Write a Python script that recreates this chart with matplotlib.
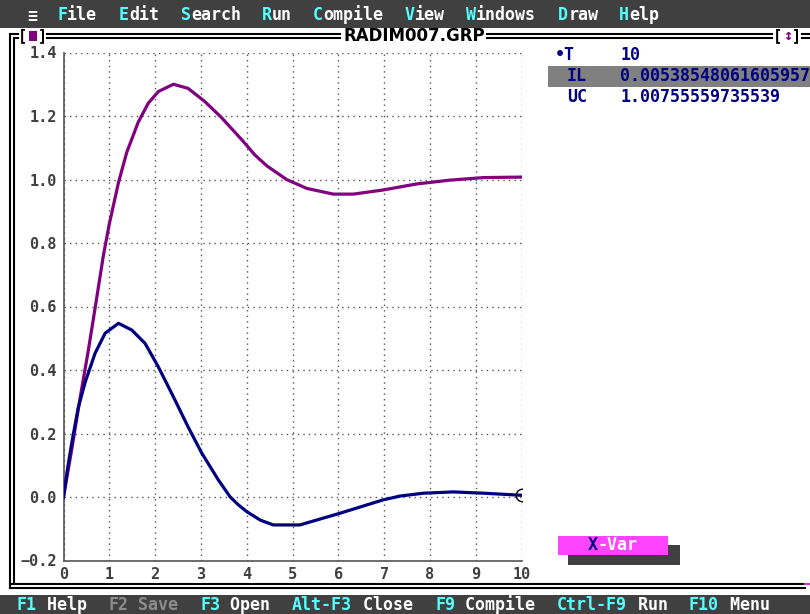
import matplotlib.pyplot as plt
from matplotlib.patches import Rectangle

# curve readings (time, value)
t_uc = [0, 0.18, 0.36, 0.54, 0.69, 0.87, 1.00, 1.20, 1.38, 1.63, 1.85, 2.07, 2.40,
        2.72, 3.09, 3.45, 3.90, 4.18, 4.44, 4.87, 5.31, 5.89, 6.33, 6.98, 7.71,
        8.44, 9.17, 10.0]
uc = [0, 0.150, 0.310, 0.460, 0.595, 0.760, 0.860, 0.990, 1.085, 1.180, 1.240, 1.277,
      1.300, 1.287, 1.245, 1.195, 1.124, 1.077, 1.043, 1.000, 0.972, 0.954, 0.954,
      0.967, 0.986, 0.998, 1.006, 1.0076]

t_il = [0, 0.10, 0.18, 0.32, 0.47, 0.69, 0.91, 1.20, 1.49, 1.78, 2.07, 2.36, 2.72,
        3.02, 3.38, 3.64, 3.82, 4.00, 4.30, 4.58, 5.16, 6.04, 6.98, 7.35, 7.86,
        8.51, 9.17, 10.0]
il = [0, 0.100, 0.170, 0.280, 0.360, 0.453, 0.516, 0.547, 0.526, 0.484, 0.410,
      0.327, 0.221, 0.138, 0.054, 0.0, -0.025, -0.046, -0.073, -0.088, -0.088,
      -0.051, -0.009, 0.003, 0.012, 0.016, 0.012, 0.0054]

x_ticks = [0, 1, 2, 3, 4, 5, 6, 7, 8, 9, 10]
y_ticks = [-0.2, 0.0, 0.2, 0.4, 0.6, 0.8, 1.0, 1.2, 1.4]

menu = ['File', 'Edit', 'Search', 'Run', 'Compile', 'View', 'Windows', 'Draw', 'Help']
menu_x = [57, 119, 181, 262, 313, 405, 466, 558, 619]

W, H = 810, 614
fig = plt.figure(figsize=(8.1, 6.14), dpi=100)
fig.patch.set_facecolor('white')
mono = 'DejaVu Sans Mono'
CYAN = '#55ffff'
BAR = '#404040'


def fx(x):
    return x / W


def fy(y):
    return 1 - y / H


def rect(x0, y0, x1, y1, color, z=0):
    fig.patches.append(Rectangle((fx(x0), fy(y1)), fx(x1 - x0), (y1 - y0) / H,
                                 transform=fig.transFigure, facecolor=color,
                                 edgecolor='none', zorder=z))


def hline(x0, x1, y, color='black', lw=1.2):
    fig.add_artist(plt.Line2D([fx(x0), fx(x1)], [fy(y), fy(y)], color=color, lw=lw))


def vline(x, y0, y1, color='black', lw=1.2):
    fig.add_artist(plt.Line2D([fx(x), fx(x)], [fy(y0), fy(y1)], color=color, lw=lw))


def txt(x, y, s, color, **kw):
    fig.text(fx(x), fy(y), s, color=color, family=mono, fontweight='bold',
             fontsize=kw.pop('size', 12), va='center', **kw)


# menu bar
rect(0, 0, W, 28, BAR)
txt(27, 15, '≡', 'white')
for name, x in zip(menu, menu_x):
    txt(x, 15, name[0], CYAN)
    txt(x + 10.2, 15, name[1:], 'white')

# status bar
rect(0, 595, W, H, BAR)
status = [(17, 'F1', ' Help', CYAN, 'white'), (108, 'F2', ' Save', '#8c8c8c', '#8c8c8c'),
          (200, 'F3', ' Open', CYAN, 'white'), (292, 'Alt-F3', ' Close', CYAN, 'white'),
          (435, 'F9', ' Compile', CYAN, 'white'), (557, 'Ctrl-F9', ' Run', CYAN, 'white'),
          (689, 'F10', ' Menu', CYAN, 'white')]
for x, k, s, c1, c2 in status:
    txt(x, 605, k, c1)
    txt(x + 10.2 * len(k), 605, s, c2)

# window frame (double lines)
vline(10, 34, 588, lw=1.5)
vline(14, 38, 584, lw=1.5)
hline(10, 18, 34, lw=1.5)
hline(14, 18, 38, lw=1.5)
txt(18, 36, '[', 'black', size=11)
rect(29, 31, 37, 41, '#800080')
txt(38, 36, ']', 'black', size=11)
hline(47, 340, 34, lw=1.5)
hline(47, 340, 38, lw=1.5)
fig.text(fx(414), fy(36), 'RADIM007.GRP', family='Liberation Sans Narrow',
         fontweight='bold', fontsize=12, ha='center', va='center')
hline(487, 772, 34, lw=1.5)
hline(487, 772, 38, lw=1.5)
txt(773, 36, '[', 'black', size=11)
txt(783, 36, '↕', '#800080', size=11)
txt(792, 36, ']', 'black', size=11)
hline(802, 810, 34, lw=1.5)
hline(802, 810, 38, lw=1.5)
hline(10, 805, 584, lw=1.5)
hline(10, 805, 588, lw=1.5)
hline(805, 810, 584, color='#cc33cc', lw=1.5)

# right panel
NAVY = '#000080'
rect(548, 66, W, 87, '#808080')
txt(555, 55, '•T', NAVY)
txt(620, 55, '10', NAVY)
txt(567, 76, 'IL', NAVY)
txt(620, 76, '0.00538548061605957', NAVY)
txt(567, 97, 'UC', NAVY)
txt(620, 97, '1.00755559735539', NAVY)

# X-Var button
rect(568, 545, 680, 565, BAR)
rect(558, 536, 668, 555, '#ff44ff', z=1)
txt(588, 545, 'X', NAVY, zorder=2)
txt(598, 545, '-Var', 'white', zorder=2)

# plot
ax = fig.add_axes([fx(63.5), fy(560.5), fx(521.5 - 63.5), (560.5 - 52.5) / H])
ax.set_facecolor('white')
ax.plot(t_uc, uc, color='#800080', lw=2.3, zorder=3)
ax.plot(t_il, il, color=NAVY, lw=2.3, zorder=3)
ax.plot([t_il[-1]], [il[-1]], marker='o', ms=9, mfc='none', mec='black', mew=1.0, zorder=4)
ax.set_xlim(0, 10)
ax.set_ylim(-0.2, 1.4)
ax.set_xticks(x_ticks)
ax.set_yticks(y_ticks)
ax.set_xticklabels([str(v) for v in x_ticks])
ax.set_yticklabels([f'{v:.1f}'.replace('-', '−') for v in y_ticks])
ax.grid(True, linestyle=(0, (1, 3)), color='#555555', lw=1.0)
ax.tick_params(length=0, labelsize=11, colors='#404040', pad=5)
for lab in ax.get_xticklabels() + ax.get_yticklabels():
    lab.set_family(mono)
    lab.set_fontweight('bold')
for s in ['top', 'right']:
    ax.spines[s].set_visible(False)
for s in ['left', 'bottom']:
    ax.spines[s].set_color('#555555')
    ax.spines[s].set_linewidth(1.2)
ax.set_axisbelow(True)

fig.savefig('out.png', dpi=100, facecolor='white')
